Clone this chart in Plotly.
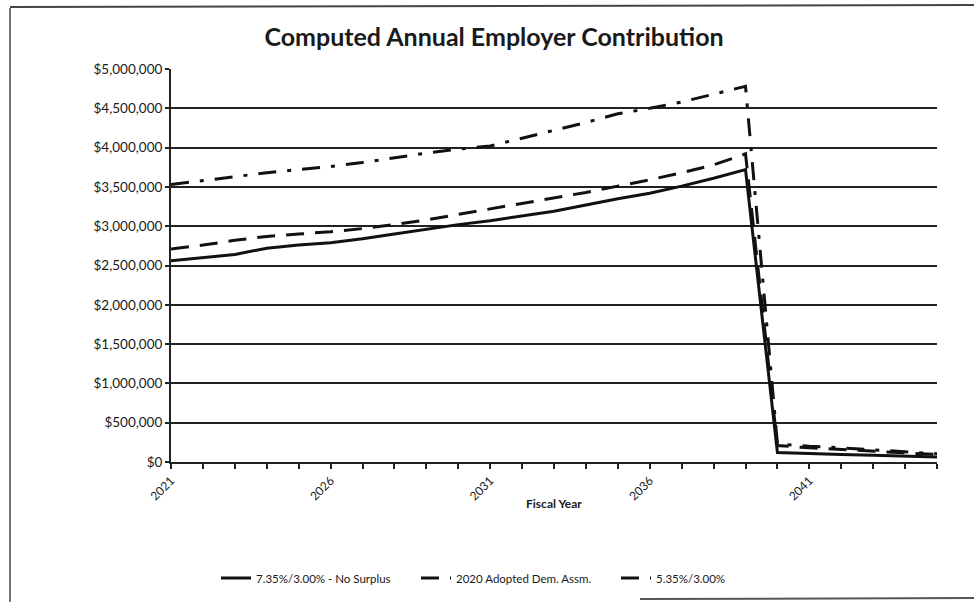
import plotly.graph_objects as go

# Fiscal years on the horizontal axis
years = list(range(2021, 2046))

# Computed annual employer contribution ($) under each scenario
no_surplus_735 = [
    2560000, 2600000, 2640000, 2720000, 2760000, 2790000, 2840000, 2900000,
    2960000, 3020000, 3070000, 3130000, 3190000, 3270000, 3350000, 3420000,
    3510000, 3610000, 3720000, 120000, 105000, 95000, 85000, 75000, 65000,
]
adopted_2020 = [
    2710000, 2760000, 2820000, 2870000, 2900000, 2930000, 2970000, 3020000,
    3080000, 3150000, 3220000, 3290000, 3360000, 3430000, 3510000, 3590000,
    3680000, 3780000, 3920000, 210000, 180000, 160000, 140000, 115000, 95000,
]
rate_535 = [
    3530000, 3580000, 3630000, 3680000, 3720000, 3760000, 3810000, 3870000,
    3930000, 3980000, 4020000, 4120000, 4220000, 4320000, 4430000, 4500000,
    4580000, 4680000, 4780000, 230000, 200000, 180000, 155000, 130000, 105000,
]

series_names = [
    "7.35%/3.00% - No Surplus",
    "2020 Adopted Dem. Assm.",
    "5.35%/3.00%",
]

y_ticks = list(range(0, 5000001, 500000))
y_tick_text = ["$0"] + [f"${v:,.0f}" for v in y_ticks[1:]]
x_tick_text = [str(y) if (y - 2021) % 5 == 0 else "" for y in years]

FONT = "Lato, Open Sans, sans-serif"
W, H = 974, 602
L, R, T, B = 171, 37, 69, 140

fig = go.Figure()
dashes = ["solid", "18px,11px", "18px,11px,4px,11px"]
for name, vals, dash in zip(series_names, [no_surplus_735, adopted_2020, rate_535], dashes):
    fig.add_trace(go.Scatter(
        x=years, y=vals, name=name, mode="lines",
        line=dict(color="#111111", width=3, dash=dash),
    ))


def px_x(p):
    return (p - L) / (W - L - R)


def px_y(p):
    return (H - B - p) / (H - T - B)


fig.update_layout(
    width=W, height=H,
    margin=dict(l=L, r=R, t=T, b=B),
    paper_bgcolor="white", plot_bgcolor="white",
    font=dict(family=FONT, color="#1a1a1a", size=11),
    showlegend=True,
    title=dict(
        text="<b>Computed Annual Employer Contribution</b>",
        font=dict(family=FONT, size=25, color="#1a1a1a"),
        x=494 / W, xref="container", xanchor="center",
        y=1 - 37 / H, yref="container", yanchor="middle",
    ),
    legend=dict(
        orientation="h",
        x=216 / W, xref="container", xanchor="left",
        y=1 - 578 / H, yref="container", yanchor="middle",
        font=dict(family=FONT, size=11.5, color="#1a1a1a"),
        itemwidth=30, tracegroupgap=0,
        entrywidth=155, entrywidthmode="pixels",
        bgcolor="rgba(0,0,0,0)",
    ),
    xaxis=dict(
        range=[2021, 2045],
        tickmode="array", tickvals=years, ticktext=x_tick_text,
        tickangle=-45, ticks="outside", ticklen=5, tickwidth=1.5, tickcolor="#222",
        showline=True, linecolor="#222", linewidth=2,
        showgrid=False, zeroline=False,
        tickfont=dict(family=FONT, size=12, color="#1a1a1a"),
    ),
    yaxis=dict(
        range=[0, 5000000],
        tickmode="array", tickvals=y_ticks, ticktext=y_tick_text,
        ticks="outside", ticklen=4, tickwidth=1.5, tickcolor="#222",
        showline=True, linecolor="#222", linewidth=2,
        showgrid=True, gridcolor="#222", gridwidth=1.5,
        zeroline=False,
        tickfont=dict(family=FONT, size=13.5, color="#1a1a1a"),
    ),
    annotations=[
        dict(
            text="<b>Fiscal Year</b>", showarrow=False,
            x=0.5, xref="paper", y=px_y(503), yref="paper",
            xanchor="center", yanchor="middle",
            font=dict(family=FONT, size=12, color="#1a1a1a"),
        )
    ],
    shapes=[
        # chart frame: left, top and lower-right edges
        dict(type="line", xref="paper", yref="paper",
             x0=px_x(10), x1=px_x(10), y0=px_y(8), y1=px_y(602),
             line=dict(color="#444", width=1.5)),
        dict(type="line", xref="paper", yref="paper",
             x0=px_x(10), x1=px_x(974), y0=px_y(7), y1=px_y(5),
             line=dict(color="#444", width=2)),
        dict(type="line", xref="paper", yref="paper",
             x0=px_x(640), x1=px_x(974), y0=px_y(599), y1=px_y(598),
             line=dict(color="#555", width=2)),
    ],
)

fig.write_html("out.html")
